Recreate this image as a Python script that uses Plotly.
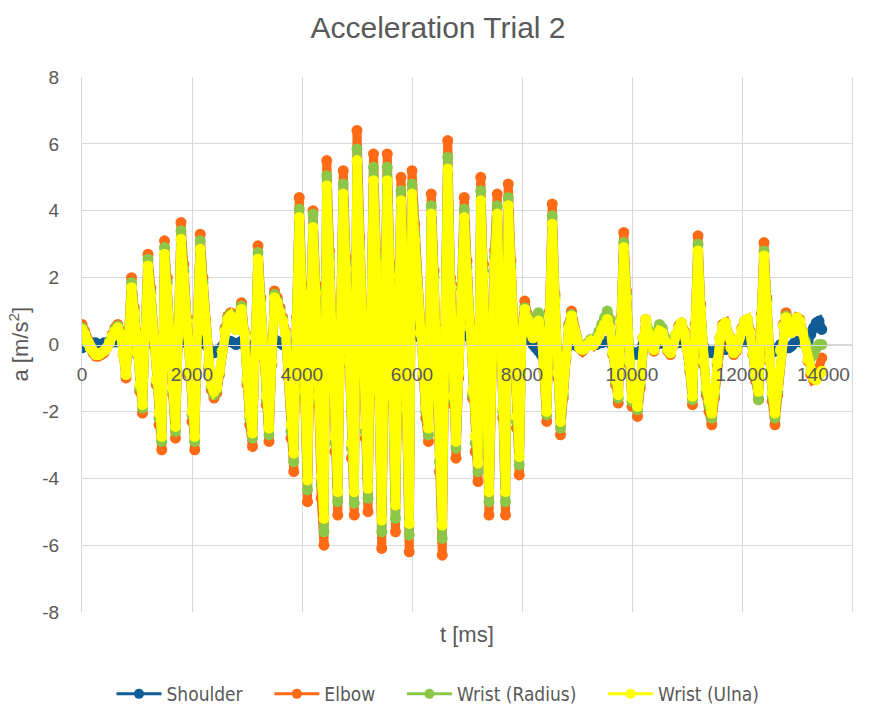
import plotly.graph_objects as go

# sample times [ms]
T_MS = list(range(0, 13500, 50))

SERIES_NAMES = ["Shoulder", "Elbow", "Wrist (Radius)", "Wrist (Ulna)"]

SHOULDER = [
    -0.1, -0.05, 0.0, 0.0, 0.05, 0.05, 0.0, 0.0, 0.05, 0.05,
    0.05, 0.1, 0.1, 0.1, 0.05, 0.0, -0.05, 0.05, 0.15, 0.1,
    0.0, -0.1, -0.15, 0.05, 0.2, 0.1, 0.0, -0.1, -0.15, -0.2,
    0.2, 0.15, 0.0, -0.1, -0.2, 0.0, 0.25, 0.15, 0.05, -0.05,
    -0.15, -0.25, 0.05, 0.2, 0.1, 0.0, -0.1, -0.2, -0.25, -0.2,
    -0.15, -0.05, 0.05, 0.1, 0.1, 0.05, 0.0, 0.05, 0.1, 0.0,
    -0.15, -0.25, -0.3, 0.05, 0.25, 0.1, -0.05, -0.15, -0.25, -0.05,
    0.15, 0.1, 0.05, 0.0, -0.05, -0.15, -0.3, -0.4, 0.1, 0.6,
    0.4, -0.1, -0.5, 0.2, 0.7, 0.4, -0.1, -0.45, -0.6, 0.9,
    0.5, 0.1, -0.3, -0.5, 0.3, 0.85, 0.5, 0.1, -0.35, -0.55,
    1.0, 0.6, 0.2, -0.2, -0.5, 0.3, 0.9, 0.5, 0.0, -0.6,
    0.2, 0.9, 0.5, -0.1, -0.55, 0.2, 0.85, 0.45, -0.1, -0.6,
    0.85, 0.6, 0.4, 0.2, 0.05, -0.1, -0.2, 0.75, 0.4, 0.0,
    -0.35, -0.65, 0.3, 1.0, 0.4, -0.1, -0.3, 0.05, 0.4, 0.75,
    0.45, 0.2, -0.1, -0.3, -0.4, 0.8, 0.45, 0.0, -0.5, 0.1,
    0.45, 0.75, 0.35, -0.15, -0.5, 0.8, 0.45, 0.1, -0.2, -0.35,
    0.2, 0.3, 0.25, 0.1, 0.0, -0.1, -0.2, -0.3, -0.4, -0.45,
    -0.2, 0.3, 0.05, -0.25, -0.4, -0.3, -0.15, 0.0, 0.05, 0.0,
    -0.05, -0.1, -0.1, -0.05, 0.0, 0.05, 0.0, 0.0, 0.05, 0.05,
    0.1, 0.1, 0.05, -0.05, -0.15, -0.2, 0.05, 0.3, 0.1, -0.15,
    -0.3, -0.25, -0.3, -0.2, 0.0, 0.1, 0.05, 0.0, -0.05, 0.0,
    0.05, 0.05, 0.0, -0.05, -0.05, 0.0, 0.05, 0.05, 0.1, 0.05,
    0.0, -0.1, -0.2, 0.05, 0.3, 0.1, -0.05, -0.15, -0.2, -0.25,
    -0.2, -0.15, -0.1, -0.1, -0.15, -0.05, 0.0, 0.0, 0.0, 0.05,
    0.1, 0.1, 0.1, 0.05, -0.05, -0.15, -0.2, 0.1, 0.3, 0.1,
    -0.05, -0.15, -0.2, -0.1, 0.0, 0.0, -0.05, -0.1, -0.05, 0.05,
    0.1, 0.1, 0.05, 0.0, 0.1, 0.3, 0.5, 0.65, 0.7, 0.45,
]

ELBOW = [
    0.6, 0.4, 0.1, -0.1, -0.25, -0.35, -0.35, -0.3, -0.25, -0.1,
    0.1, 0.3, 0.5, 0.6, 0.4, -0.3, -1.0, 0.4, 2.0, 1.1,
    -0.3, -1.4, -2.05, 0.4, 2.7, 1.7, 0.3, -1.2, -2.4, -3.15,
    3.1, 2.0, 0.3, -1.5, -2.8, 0.3, 3.65, 2.4, 0.8, -0.9,
    -2.3, -3.15, 0.8, 3.3, 2.0, 0.5, -0.7, -1.35, -1.6, -1.45,
    -0.9, -0.2, 0.5, 0.85, 0.95, 0.7, 0.5, 0.9, 1.25, 0.4,
    -1.2, -2.4, -3.05, 0.3, 2.95, 1.4, -0.4, -1.8, -2.9, -0.6,
    1.6, 1.4, 1.1, 0.8, 0.4, -1.0, -2.8, -3.8, 0.8, 4.4,
    1.8, -1.6, -4.7, 0.2, 4.0, 1.8, -1.8, -4.6, -6.0, 5.5,
    2.8, -0.4, -3.2, -5.1, 0.6, 5.2, 2.6, -0.6, -3.4, -5.1,
    6.4, 3.2, 0.2, -2.8, -5.0, 0.4, 5.7, 2.8, -1.6, -6.1,
    0.2, 5.7, 2.4, -1.8, -5.6, 0.2, 5.0, 2.2, -2.2, -6.2,
    5.2, 3.6, 1.8, 0.4, -1.0, -2.2, -2.9, 4.5, 2.2, -0.8,
    -3.8, -6.3, 0.5, 6.1, 2.0, -1.8, -3.4, -1.0, 1.8, 4.4,
    2.5, 0.6, -1.6, -3.2, -4.1, 5.0, 2.4, -1.2, -5.1, -0.5,
    2.8, 4.5, 1.5, -2.2, -5.1, 4.8, 2.5, -0.3, -2.5, -3.9,
    0.5, 1.3, 0.9, 0.4, 0.2, 0.5, 0.8, 0.4, -0.8, -2.3,
    1.0, 4.2, 1.5, -1.0, -2.7, -1.6, -0.4, 0.6, 1.0, 0.5,
    0.1, -0.1, -0.2, -0.1, 0.0, 0.1, 0.0, 0.1, 0.3, 0.5,
    0.7, 0.9, 0.6, -0.3, -1.2, -1.75, 0.8, 3.35, 1.6, -0.6,
    -1.85, -1.2, -2.15, -1.3, 0.2, 0.75, 0.4, 0.0, -0.2, 0.2,
    0.5, 0.4, 0.1, -0.2, -0.3, 0.0, 0.3, 0.55, 0.65, 0.4,
    -0.1, -0.8, -1.8, 0.6, 3.25, 1.2, -0.6, -1.5, -2.0, -2.4,
    -1.6, -0.6, 0.2, 0.6, 0.65, 0.3, -0.1, -0.3, -0.2, 0.2,
    0.5, 0.7, 0.75, 0.4, -0.3, -1.1, -1.65, 0.9, 3.05, 1.4,
    -0.5, -1.7, -2.4, -1.5, -0.2, 0.6, 0.95, 0.7, 0.4, 0.6,
    0.8, 0.75, 0.4, 0.0, -0.5, -0.9, -1.05, -1.0, -0.7, -0.4,
]

WRIST_RADIUS = [
    0.5, 0.35, 0.1, -0.1, -0.2, -0.3, -0.3, -0.25, -0.2, -0.1,
    0.1, 0.25, 0.45, 0.55, 0.35, -0.3, -0.9, 0.35, 1.85, 1.0,
    -0.3, -1.3, -1.9, 0.35, 2.55, 1.55, 0.3, -1.1, -2.2, -2.9,
    2.9, 1.85, 0.3, -1.4, -2.6, 0.3, 3.4, 2.2, 0.75, -0.85,
    -2.1, -2.9, 0.75, 3.1, 1.85, 0.45, -0.65, -1.25, -1.5, -1.35,
    -0.85, -0.2, 0.45, 0.8, 0.9, 0.65, 0.45, 0.85, 1.15, 0.35,
    -1.1, -2.2, -2.8, 0.3, 2.75, 1.3, -0.35, -1.65, -2.7, -0.55,
    1.5, 1.3, 1.0, 0.75, 0.35, -0.9, -2.6, -3.5, 0.75, 4.05,
    1.65, -1.5, -4.35, 0.2, 3.9, 1.65, -1.65, -4.2, -5.6, 5.05,
    2.6, -0.35, -2.95, -4.7, 0.55, 4.8, 2.4, -0.55, -3.1, -4.75,
    5.85, 2.95, 0.2, -2.6, -4.6, 0.35, 5.3, 2.6, -1.5, -5.6,
    0.2, 5.3, 2.2, -1.65, -5.2, 0.2, 4.6, 2.0, -2.0, -5.7,
    4.8, 3.3, 1.65, 0.35, -0.9, -2.0, -2.7, 4.15, 2.0, -0.75,
    -3.5, -5.8, 0.45, 5.6, 1.85, -1.65, -3.1, -0.9, 1.65, 4.05,
    2.3, 0.55, -1.5, -2.95, -3.8, 4.6, 2.2, -1.1, -4.7, -0.45,
    2.6, 4.15, 1.4, -2.0, -4.7, 4.4, 2.3, -0.3, -2.3, -3.6,
    0.45, 1.1, 0.85, 0.45, 0.4, 0.7, 0.95, 0.5, -0.75, -2.1,
    0.9, 3.85, 1.4, -0.9, -2.5, -1.5, -0.35, 0.55, 0.9, 0.45,
    0.1, -0.1, -0.15, -0.05, 0.05, 0.15, 0.1, 0.2, 0.4, 0.6,
    0.8, 1.0, 0.75, -0.25, -1.1, -1.6, 0.75, 3.05, 1.5, -0.55,
    -1.7, -1.1, -1.95, -1.2, 0.2, 0.7, 0.45, 0.1, 0.0, 0.35,
    0.6, 0.5, 0.2, -0.15, -0.25, 0.0, 0.3, 0.5, 0.6, 0.35,
    -0.1, -0.75, -1.65, 0.55, 3.0, 1.1, -0.55, -1.4, -1.85, -2.2,
    -1.5, -0.55, 0.2, 0.55, 0.6, 0.3, -0.1, -0.25, -0.15, 0.2,
    0.45, 0.65, 0.7, 0.35, -0.3, -1.0, -1.65, 0.85, 2.8, 1.3,
    -0.45, -1.55, -2.2, -1.4, -0.2, 0.55, 0.85, 0.65, 0.4, 0.55,
    0.75, 0.7, 0.4, 0.1, -0.2, -0.4, -0.3, -0.1, 0.0, 0.0,
]

WRIST_ULNA = [
    0.45, 0.3, 0.05, -0.1, -0.2, -0.3, -0.3, -0.25, -0.2, -0.1,
    0.05, 0.25, 0.4, 0.5, 0.3, -0.3, -0.9, 0.3, 1.7, 0.95,
    -0.25, -1.2, -1.8, 0.3, 2.35, 1.45, 0.25, -1.05, -2.05, -2.75,
    2.7, 1.7, 0.25, -1.3, -2.45, 0.25, 3.15, 2.05, 0.7, -0.8,
    -2.0, -2.75, 0.7, 2.85, 1.7, 0.4, -0.6, -1.2, -1.4, -1.3,
    -0.8, -0.2, 0.4, 0.75, 0.85, 0.6, 0.45, 0.8, 1.05, 0.35,
    -1.05, -2.1, -2.65, 0.25, 2.55, 1.2, -0.35, -1.55, -2.5, -0.5,
    1.4, 1.25, 0.95, 0.7, 0.35, -0.85, -2.4, -3.25, 0.7, 3.8,
    1.55, -1.4, -4.05, 0.2, 3.5, 1.55, -1.55, -3.95, -5.2, 4.75,
    2.4, -0.35, -2.75, -4.4, 0.5, 4.5, 2.25, -0.5, -2.95, -4.4,
    5.5, 2.75, 0.2, -2.4, -4.3, 0.35, 4.9, 2.4, -1.4, -5.25,
    0.15, 4.9, 2.05, -1.55, -4.8, 0.15, 4.3, 1.9, -1.9, -5.35,
    4.5, 3.1, 1.55, 0.35, -0.85, -1.9, -2.5, 3.9, 1.9, -0.7,
    -3.25, -5.4, 0.45, 5.25, 1.7, -1.55, -2.9, -0.85, 1.55, 3.8,
    2.15, 0.5, -1.4, -2.75, -3.55, 4.3, 2.05, -1.05, -4.4, -0.45,
    2.4, 3.9, 1.3, -1.9, -4.4, 4.15, 2.15, -0.25, -2.15, -3.35,
    0.4, 1.05, 0.75, 0.35, 0.2, 0.45, 0.7, 0.35, -0.7, -2.0,
    0.85, 3.6, 1.3, -0.85, -2.3, -1.4, -0.35, 0.5, 0.85, 0.45,
    0.1, -0.1, -0.15, -0.1, 0.0, 0.1, 0.0, 0.1, 0.25, 0.45,
    0.6, 0.75, 0.5, -0.25, -1.05, -1.5, 0.7, 2.9, 1.4, -0.5,
    -1.6, -1.05, -1.85, -1.1, 0.2, 0.75, 0.35, 0.0, -0.15, 0.15,
    0.4, 0.35, 0.1, -0.15, -0.25, 0.0, 0.3, 0.5, 0.65, 0.35,
    -0.1, -0.7, -1.55, 0.5, 2.8, 1.05, -0.5, -1.3, -1.7, -2.05,
    -1.4, -0.5, 0.2, 0.55, 0.65, 0.3, -0.1, -0.25, -0.15, 0.2,
    0.45, 0.7, 0.75, 0.35, -0.25, -0.95, -1.4, 0.8, 2.65, 1.2,
    -0.45, -1.45, -2.05, -1.3, -0.15, 0.55, 0.8, 0.65, 0.35, 0.55,
    0.8, 0.7, 0.35, 0.0, -0.45, -0.8, -1.0, -1.05, -0.9, -0.8,
]

X_TICKS = [0, 2000, 4000, 6000, 8000, 10000, 12000, 14000]
Y_TICKS = [-8, -6, -4, -2, 0, 2, 4, 6, 8]

COLORS = ["#0F5C97", "#FF6A14", "#8CC748", "#FFFF00"]
GRAY = "#595959"
GRID = "#D9D9D9"
FONT = "Liberation Sans, Arial, sans-serif"
PAD = "\u00a0" * 4  # extra spacing between legend entries

fig = go.Figure()
for name, vals, col in zip(SERIES_NAMES, [SHOULDER, ELBOW, WRIST_RADIUS, WRIST_ULNA], COLORS):
    fig.add_trace(go.Scatter(
        x=T_MS, y=vals, mode="lines+markers", name=name,
        line=dict(color=col, width=9),
        marker=dict(color=col, size=11, symbol="circle"),
        showlegend=False, hoverinfo="skip",
    ))
# legend entries (thin line + marker like the Excel legend)
for i, (name, col) in enumerate(zip(SERIES_NAMES, COLORS)):
    fig.add_trace(go.Scatter(
        x=[None], y=[None], mode="lines+markers",
        name=name + (PAD if i < len(SERIES_NAMES) - 1 else ""),
        line=dict(color=col, width=3),
        marker=dict(color=col, size=10, symbol="circle"),
    ))

# x tick labels on the axis; the last one is right-aligned inside the chart (as in the original)
shown_ticks = X_TICKS[:-1]

fig.update_layout(
    width=876, height=709,
    margin=dict(l=82, r=24, t=77, b=97),
    paper_bgcolor="white", plot_bgcolor="white",
    font=dict(family=FONT, color=GRAY, size=19),
    title=dict(text="Acceleration Trial 2", x=0.5, xref="container", xanchor="center",
               y=1 - 27 / 709, yref="container", yanchor="middle",
               font=dict(size=30, color=GRAY, family=FONT)),
    xaxis=dict(range=[0, 14000], tickvals=shown_ticks,
               ticktext=[str(v) for v in shown_ticks],
               showgrid=True, gridcolor=GRID, gridwidth=1,
               anchor="free", position=0.5, showline=True, linecolor=GRID, linewidth=1,
               zeroline=False, ticks="", ticklabelstandoff=13, automargin=False,
               tickfont=dict(size=19, color=GRAY, family=FONT)),
    yaxis=dict(range=[-8, 8], tickvals=Y_TICKS, ticktext=[str(v) for v in Y_TICKS],
               showgrid=True, gridcolor=GRID, gridwidth=1, zeroline=False,
               showline=True, linecolor=GRID, linewidth=1, mirror=True,
               ticks="", ticklabelstandoff=18, automargin=False,
               tickfont=dict(size=19, color=GRAY, family=FONT)),
    legend=dict(orientation="h", xref="container", x=0.5, xanchor="center",
                yref="container", y=15 / 709, yanchor="middle",
                itemwidth=45, font=dict(size=19, color=GRAY,
                family="Liberation Sans Narrow, DejaVu Sans Condensed, Liberation Sans"),
                bgcolor="rgba(0,0,0,0)"),
    annotations=[
        dict(text=str(X_TICKS[-1]), xref="x", yref="paper", x=X_TICKS[-1], y=(612 - 374) / 535,
             xanchor="right", yanchor="middle", showarrow=False,
             font=dict(size=19, color=GRAY, family=FONT)),
        dict(text="t [ms]", xref="paper", yref="paper", x=0.5, y=-22 / 535,
             xanchor="center", yanchor="middle", showarrow=False,
             font=dict(size=22, color=GRAY, family=FONT)),
        dict(text="a [m/s<sup>2</sup>]", xref="paper", yref="paper", x=-64 / 770, y=0.5,
             xanchor="center", yanchor="middle", textangle=-90, showarrow=False,
             font=dict(size=22, color=GRAY, family=FONT)),
    ],
)

fig.write_html("out.html", config={"displayModeBar": False})
